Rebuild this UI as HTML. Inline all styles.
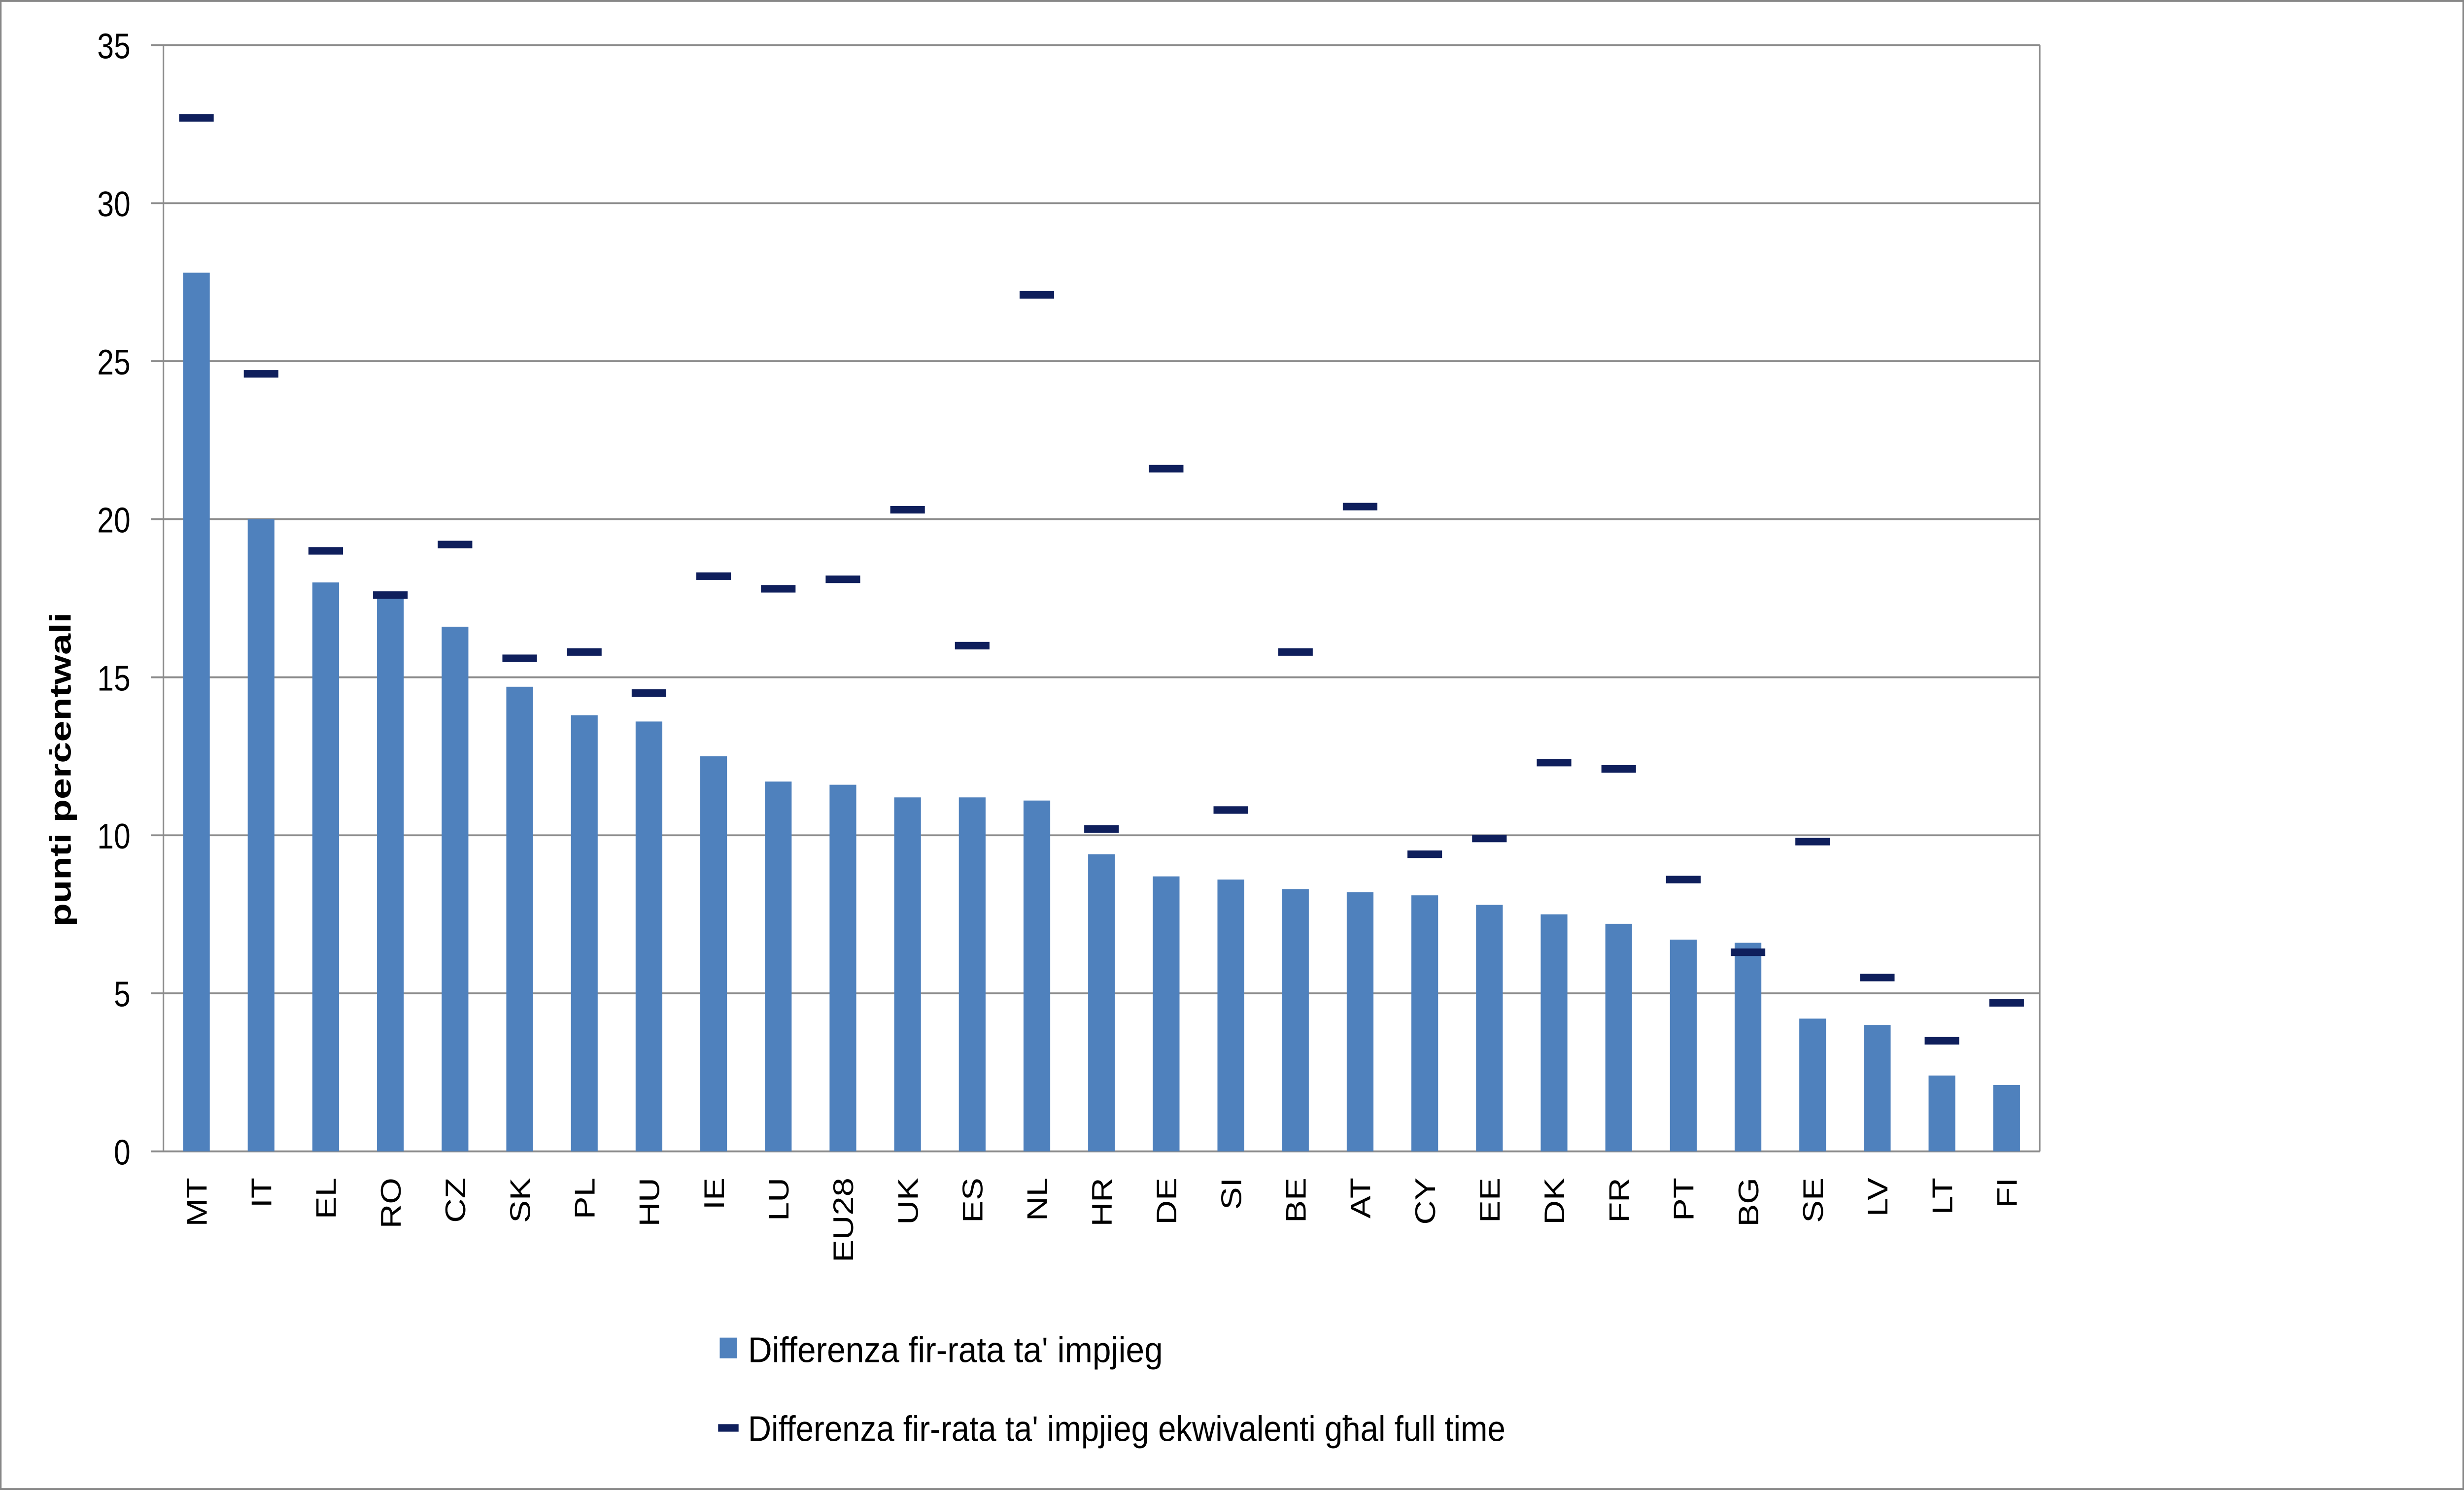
<!DOCTYPE html>
<html><head><meta charset="utf-8"><meta name="viewport" content="width=device-width,initial-scale=1"><style>
html,body{margin:0;padding:0;background:#fff;width:100%;height:100%;overflow:hidden}
svg{display:block;width:100vw;height:100vh;position:absolute;left:0;top:0}
text{font-family:"Liberation Sans","DejaVu Sans",sans-serif}
</style></head><body>
<svg viewBox="0 0 1568 792" preserveAspectRatio="none" xmlns="http://www.w3.org/2000/svg">
<rect x="0.5" y="0.5" width="1567" height="791" fill="#fff" stroke="#878787" stroke-width="1"/>
<g stroke="#8c8c8c" stroke-width="1">
<line x1="96" x2="1298" y1="24" y2="24"/><line x1="96" x2="1298" y1="108" y2="108"/><line x1="96" x2="1298" y1="192" y2="192"/><line x1="96" x2="1298" y1="276" y2="276"/><line x1="96" x2="1298" y1="360" y2="360"/><line x1="96" x2="1298" y1="444" y2="444"/><line x1="96" x2="1298" y1="528" y2="528"/><line x1="96" x2="1298" y1="612" y2="612"/>
<line x1="104" x2="104" y1="24" y2="612"/><line x1="1298" x2="1298" y1="24" y2="612"/>
</g>
<g font-size="19" text-anchor="end">
<text x="83" y="31">35</text><text x="83" y="115">30</text><text x="83" y="199">25</text><text x="83" y="283">20</text><text x="83" y="367">15</text><text x="83" y="451">10</text><text x="83" y="535">5</text><text x="83" y="619">0</text>
</g>
<g fill="#4f81bd">
<rect x="116.5" y="144.96" width="17" height="467.04"/>
<rect x="157.64" y="276" width="17" height="336"/>
<rect x="198.78" y="309.6" width="17" height="302.4"/>
<rect x="239.92" y="316.32" width="17" height="295.68"/>
<rect x="281.06" y="333.12" width="17" height="278.88"/>
<rect x="322.2" y="365.04" width="17" height="246.96"/>
<rect x="363.34" y="380.16" width="17" height="231.84"/>
<rect x="404.48" y="383.52" width="17" height="228.48"/>
<rect x="445.62" y="402" width="17" height="210"/>
<rect x="486.76" y="415.44" width="17" height="196.56"/>
<rect x="527.9" y="417.12" width="17" height="194.88"/>
<rect x="569.04" y="423.84" width="17" height="188.16"/>
<rect x="610.18" y="423.84" width="17" height="188.16"/>
<rect x="651.32" y="425.52" width="17" height="186.48"/>
<rect x="692.46" y="454.08" width="17" height="157.92"/>
<rect x="733.6" y="465.84" width="17" height="146.16"/>
<rect x="774.74" y="467.52" width="17" height="144.48"/>
<rect x="815.88" y="472.56" width="17" height="139.44"/>
<rect x="857.02" y="474.24" width="17" height="137.76"/>
<rect x="898.16" y="475.92" width="17" height="136.08"/>
<rect x="939.3" y="480.96" width="17" height="131.04"/>
<rect x="980.44" y="486" width="17" height="126"/>
<rect x="1021.58" y="491.04" width="17" height="120.96"/>
<rect x="1062.72" y="499.44" width="17" height="112.56"/>
<rect x="1103.86" y="501.12" width="17" height="110.88"/>
<rect x="1145" y="541.44" width="17" height="70.56"/>
<rect x="1186.14" y="544.8" width="17" height="67.2"/>
<rect x="1227.28" y="571.68" width="17" height="40.32"/>
<rect x="1268.42" y="576.72" width="17" height="35.28"/>
</g>
<g fill="#0f1f5c">
<rect x="114" y="60.64" width="22" height="4"/>
<rect x="155.14" y="196.72" width="22" height="4"/>
<rect x="196.28" y="290.8" width="22" height="4"/>
<rect x="237.42" y="314.32" width="22" height="4"/>
<rect x="278.56" y="287.44" width="22" height="4"/>
<rect x="319.7" y="347.92" width="22" height="4"/>
<rect x="360.84" y="344.56" width="22" height="4"/>
<rect x="401.98" y="366.4" width="22" height="4"/>
<rect x="443.12" y="304.24" width="22" height="4"/>
<rect x="484.26" y="310.96" width="22" height="4"/>
<rect x="525.4" y="305.92" width="22" height="4"/>
<rect x="566.54" y="268.96" width="22" height="4"/>
<rect x="607.68" y="341.2" width="22" height="4"/>
<rect x="648.82" y="154.72" width="22" height="4"/>
<rect x="689.96" y="438.64" width="22" height="4"/>
<rect x="731.1" y="247.12" width="22" height="4"/>
<rect x="772.24" y="428.56" width="22" height="4"/>
<rect x="813.38" y="344.56" width="22" height="4"/>
<rect x="854.52" y="267.28" width="22" height="4"/>
<rect x="895.66" y="452.08" width="22" height="4"/>
<rect x="936.8" y="443.68" width="22" height="4"/>
<rect x="977.94" y="403.36" width="22" height="4"/>
<rect x="1019.08" y="406.72" width="22" height="4"/>
<rect x="1060.22" y="465.52" width="22" height="4"/>
<rect x="1101.36" y="504.16" width="22" height="4"/>
<rect x="1142.5" y="445.36" width="22" height="4"/>
<rect x="1183.64" y="517.6" width="22" height="4"/>
<rect x="1224.78" y="551.2" width="22" height="4"/>
<rect x="1265.92" y="531.04" width="22" height="4"/>
</g>
<g font-size="18" text-anchor="end">
<text transform="translate(131.5,626) rotate(-90)">MT</text>
<text transform="translate(172.64,626) rotate(-90)">IT</text>
<text transform="translate(213.78,626) rotate(-90)">EL</text>
<text transform="translate(254.92,626) rotate(-90)">RO</text>
<text transform="translate(296.06,626) rotate(-90)">CZ</text>
<text transform="translate(337.2,626) rotate(-90)">SK</text>
<text transform="translate(378.34,626) rotate(-90)">PL</text>
<text transform="translate(419.48,626) rotate(-90)">HU</text>
<text transform="translate(460.62,626) rotate(-90)">IE</text>
<text transform="translate(501.76,626) rotate(-90)">LU</text>
<text transform="translate(542.9,626) rotate(-90)">EU28</text>
<text transform="translate(584.04,626) rotate(-90)">UK</text>
<text transform="translate(625.18,626) rotate(-90)">ES</text>
<text transform="translate(666.32,626) rotate(-90)">NL</text>
<text transform="translate(707.46,626) rotate(-90)">HR</text>
<text transform="translate(748.6,626) rotate(-90)">DE</text>
<text transform="translate(789.74,626) rotate(-90)">SI</text>
<text transform="translate(830.88,626) rotate(-90)">BE</text>
<text transform="translate(872.02,626) rotate(-90)">AT</text>
<text transform="translate(913.16,626) rotate(-90)">CY</text>
<text transform="translate(954.3,626) rotate(-90)">EE</text>
<text transform="translate(995.44,626) rotate(-90)">DK</text>
<text transform="translate(1036.58,626) rotate(-90)">FR</text>
<text transform="translate(1077.72,626) rotate(-90)">PT</text>
<text transform="translate(1118.86,626) rotate(-90)">BG</text>
<text transform="translate(1160,626) rotate(-90)">SE</text>
<text transform="translate(1201.14,626) rotate(-90)">LV</text>
<text transform="translate(1242.28,626) rotate(-90)">LT</text>
<text transform="translate(1283.42,626) rotate(-90)">FI</text>
</g>
<text font-size="19" font-weight="bold" text-anchor="middle" textLength="167" lengthAdjust="spacingAndGlyphs" transform="translate(45,409) rotate(-90)">punti perċentwali</text>
<rect x="458" y="711" width="11" height="11" fill="#4f81bd"/>
<text x="476" y="724" font-size="19" textLength="264" lengthAdjust="spacingAndGlyphs">Differenza fir-rata ta' impjieg</text>
<rect x="457" y="757" width="13" height="4" fill="#0f1f5c"/>
<text x="476" y="766" font-size="19" textLength="482" lengthAdjust="spacingAndGlyphs">Differenza fir-rata ta' impjieg ekwivalenti għal full time</text>
</svg>
</body></html>
